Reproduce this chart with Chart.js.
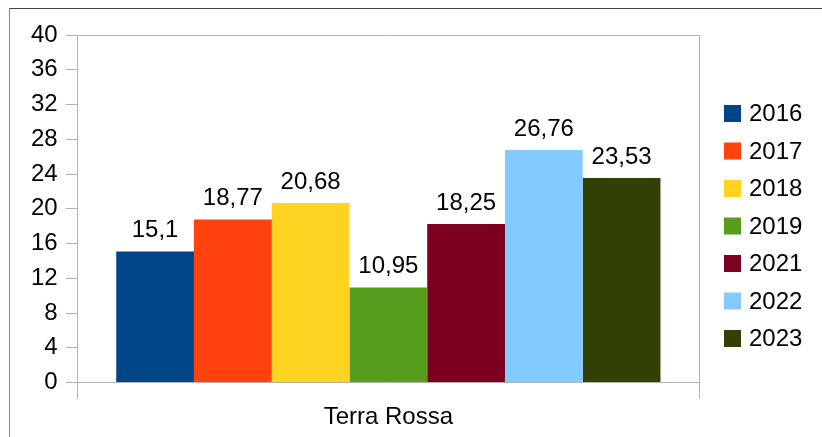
<!DOCTYPE html>
<html>
<head>
<meta charset="utf-8">
<script src="https://cdn.jsdelivr.net/npm/chart.js@4"></script>
<style>
  html, body { margin:0; padding:0; background:#fff; overflow:hidden; }
  #wrap { position:relative; width:822px; height:437px; }
  #frame { position:absolute; left:9px; top:8px; width:840px; height:460px; border:1px solid #8a8a8a; border-top-color:#454545; box-sizing:border-box; pointer-events:none; }
</style>
</head>
<body>
<div id="wrap">
  <canvas id="chart" width="822" height="437"></canvas>
  <div id="frame"></div>
</div>
<script>
// data
const categories = ["Terra Rossa"];
const years  = ["2016","2017","2018","2019","2021","2022","2023"];
const values = [15.1, 18.77, 20.68, 10.95, 18.25, 26.76, 23.53];
const colors = ["#004586","#ff420e","#ffd320","#579d1c","#7e0021","#83caff","#314004"];
const yTicks = [0,4,8,12,16,20,24,28,32,36,40];

const FONT = "'Liberation Sans', Arial, sans-serif";
const AXIS = "#b3b3b3";

const fmt = v => String(v).replace(".", ",");

// value labels above each bar + legend on the right
const labelsPlugin = {
  id:"labels",
  afterDatasetsDraw(chart){
    const ctx = chart.ctx;
    ctx.save();
    ctx.fillStyle = "#000";
    ctx.font = "24px " + FONT;
    ctx.textAlign = "center";
    ctx.textBaseline = "bottom";
    chart.data.datasets.forEach((ds,i)=>{
      chart.getDatasetMeta(i).data.forEach((bar,j)=>{
        ctx.fillText(fmt(ds.data[j]), bar.x, bar.y - 9);
      });
    });
    ctx.restore();
  },
  afterDraw(chart){
    const ctx = chart.ctx, a = chart.chartArea;
    const gap = 37.5, n = chart.data.datasets.length;
    const y0 = 226 - gap*(n-1)/2;
    ctx.save();
    ctx.font = "24px " + FONT;
    ctx.textBaseline = "middle";
    ctx.textAlign = "left";
    chart.data.datasets.forEach((ds,i)=>{
      const y = y0 + i*gap;
      ctx.fillStyle = ds.backgroundColor;
      ctx.fillRect(a.right + 25, y - 8.5, 17, 17);
      ctx.fillStyle = "#000";
      ctx.fillText(ds.label, a.right + 50, y + 1);
    });
    ctx.restore();
  }
};

new Chart(document.getElementById("chart"), {
  type:"bar",
  data:{
    labels: categories,
    datasets: years.map((y,i)=>({ label:y, data:[values[i]], backgroundColor:colors[i], borderWidth:0 }))
  },
  options:{
    responsive:false,
    animation:false,
    layout:{ padding:{ left:23, right:123, top:35, bottom:0 } },
    datasets:{ bar:{ categoryPercentage:0.876, barPercentage:1 } },
    plugins:{ legend:{ display:false }, tooltip:{ enabled:false } },
    scales:{
      x:{
        grid:{ color:AXIS, offset:true, tickLength:16, lineWidth:1 },
        border:{ color:AXIS },
        ticks:{ color:"#000", font:{ family:FONT, size:24, lineHeight:1.1 }, padding:6 }
      },
      y:{
        min:0, max:40,
        grid:{
          color: c => c.tick && c.tick.value === 40 ? AXIS : "rgba(0,0,0,0)",
          tickColor:AXIS, tickLength:12
        },
        border:{ color:AXIS },
        ticks:{
          stepSize:2, padding:8, color:"#000", font:{ family:FONT, size:24 },
          callback: v => yTicks.includes(v) ? String(v) : ""
        }
      }
    }
  },
  plugins:[labelsPlugin]
});
</script>
</body>
</html>
